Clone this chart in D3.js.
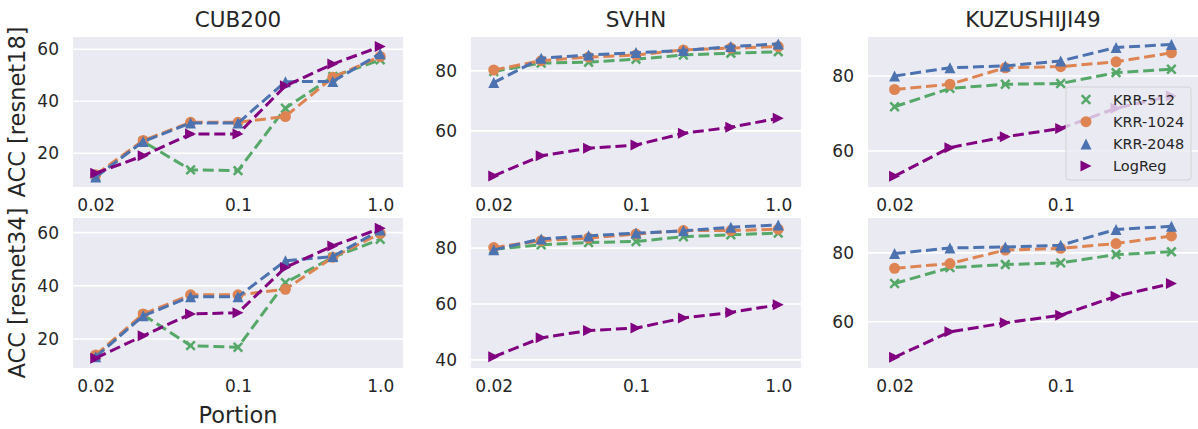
<!DOCTYPE html>
<html>
<head>
<meta charset="utf-8">
<script src="https://cdn.jsdelivr.net/npm/d3@7"></script>
<style>
  body { margin: 0; background: #ffffff; }
  svg { display: block; }
  text { font-family: "DejaVu Sans", sans-serif; fill: #262626; }
</style>
</head>
<body>
<svg id="chart" width="1198" height="429"></svg>
<script>
// ---- data -------------------------------------------------------------
const datasets = ["CUB200", "SVHN", "KUZUSHIJI49"];
const backbones = ["resnet18", "resnet34"];
const seriesNames = ["KRR-512", "KRR-1024", "KRR-2048", "LogReg"];

// x axis: portion steps are evenly spaced; only some carry a label
const tickIndex = [0, 3, 6];
const tickText = ["0.02", "0.1", "1.0"];

// accuracy [%], resnet18 features
const cub18_krr512  = [11.0, 24.5, 13.6, 13.3, 37.3, 49.5, 55.9];
const cub18_krr1024 = [11.7, 24.9, 31.9, 31.9, 34.1, 49.2, 57.2];
const cub18_krr2048 = [10.8, 24.5, 31.6, 31.6, 47.5, 47.6, 58.3];
const cub18_logreg  = [12.3, 19.0, 27.4, 27.4, 45.9, 54.3, 61.0];

const svhn18_krr512  = [79.8, 82.6, 82.9, 83.9, 85.3, 85.9, 86.4];
const svhn18_krr1024 = [80.3, 83.4, 84.6, 85.3, 87.0, 87.6, 88.1];
const svhn18_krr2048 = [76.1, 84.2, 85.3, 86.1, 86.8, 88.1, 89.0];
const svhn18_logreg  = [45.0, 51.7, 54.2, 55.3, 59.2, 61.2, 64.2];

const kuz18_krr512  = [71.8, 76.7, 77.8, 78.0, 80.9, 81.8];
const kuz18_krr1024 = [76.4, 77.8, 82.2, 82.5, 83.8, 86.2];
const kuz18_krr2048 = [80.0, 82.2, 82.7, 84.0, 87.6, 88.4];
const kuz18_logreg  = [53.3, 60.9, 63.8, 66.0, 71.4, 74.7];

// accuracy [%], resnet34 features
const cub34_krr512  = [13.6, 29.1, 17.5, 16.9, 41.2, 50.7, 57.5];
const cub34_krr1024 = [14.0, 29.4, 36.6, 36.6, 38.7, 50.7, 59.7];
const cub34_krr2048 = [13.3, 28.7, 35.9, 35.9, 49.4, 51.0, 61.0];
const cub34_logreg  = [12.8, 21.2, 29.4, 29.9, 46.9, 55.0, 61.6];

const svhn34_krr512  = [79.6, 81.2, 82.0, 82.4, 84.1, 84.8, 85.4];
const svhn34_krr1024 = [80.2, 82.7, 83.6, 85.1, 86.3, 86.3, 86.8];
const svhn34_krr2048 = [79.4, 83.3, 84.4, 85.4, 86.2, 87.5, 88.3];
const svhn34_logreg  = [41.1, 47.9, 50.5, 51.4, 55.0, 57.0, 59.7];

const kuz34_krr512  = [71.1, 75.7, 76.6, 77.1, 79.5, 80.3];
const kuz34_krr1024 = [75.5, 76.9, 80.8, 81.3, 82.7, 84.9];
const kuz34_krr2048 = [79.8, 81.4, 81.7, 82.2, 86.8, 87.7];
const kuz34_logreg  = [49.7, 57.1, 59.7, 61.9, 67.4, 71.1];

const panelSeries = [
  [
    [cub18_krr512, cub18_krr1024, cub18_krr2048, cub18_logreg],
    [svhn18_krr512, svhn18_krr1024, svhn18_krr2048, svhn18_logreg],
    [kuz18_krr512, kuz18_krr1024, kuz18_krr2048, kuz18_logreg]
  ],
  [
    [cub34_krr512, cub34_krr1024, cub34_krr2048, cub34_logreg],
    [svhn34_krr512, svhn34_krr1024, svhn34_krr2048, svhn34_logreg],
    [kuz34_krr512, kuz34_krr1024, kuz34_krr2048, kuz34_logreg]
  ]
];

// ---- layout & style ---------------------------------------------------
const colX = [73, 471, 868];
const rowY = [37, 218];
const panelW = 330, panelH = 150;
const xPad = 0.48;
const yDomains = [
  [[7.0, 64.7], [41.3, 91.3], [50.4, 90.4]],
  [[9.1, 65.5], [37.1, 90.8], [46.6, 90.1]]
];
const yTickCandidates = [0, 20, 40, 60, 80, 100];

const colors = ["#55A868", "#DD8452", "#4C72B0", "#800080"];
const markerKinds = ["x", "o", "^", ">"];
const bg = "#EAEAF2";
const lineW = 3;
const dash = "11,4.8";
const mr = 5.5; // marker half-size

const svg = d3.select("#chart");

function markerPath(kind) {
  if (kind === "x") return "M-4.3,-4.3L4.3,4.3M-4.3,4.3L4.3,-4.3";
  if (kind === "^") return `M0,${-mr}L${mr},${mr}L${-mr},${mr}Z`;
  if (kind === ">") return `M${mr},0L${-mr},${mr}L${-mr},${-mr}Z`;
  return null;
}

function drawMarker(g, kind, color, x, y) {
  if (kind === "o") {
    g.append("circle").attr("cx", x).attr("cy", y).attr("r", mr).attr("fill", color);
  } else if (kind === "x") {
    g.append("path").attr("transform", `translate(${x},${y})`)
      .attr("d", markerPath(kind)).attr("fill", "none")
      .attr("stroke", color).attr("stroke-width", 2.5);
  } else {
    g.append("path").attr("transform", `translate(${x},${y})`)
      .attr("d", markerPath(kind)).attr("fill", color);
  }
}

for (let r = 0; r < 2; r++) {
  for (let c = 0; c < 3; c++) {
    const series = panelSeries[r][c];
    const n = series[0].length;
    const x0 = colX[c], y0 = rowY[r];

    const x = d3.scaleLinear().domain([-xPad, n - 1 + xPad]).range([x0, x0 + panelW]);
    const y = d3.scaleLinear().domain(yDomains[r][c]).range([y0 + panelH, y0]);

    const g = svg.append("g");
    g.append("rect").attr("x", x0).attr("y", y0)
      .attr("width", panelW).attr("height", panelH).attr("fill", bg);

    const [ylo, yhi] = yDomains[r][c];
    const yTicks = yTickCandidates.filter(v => v >= ylo && v <= yhi);

    // horizontal grid
    g.selectAll(".grid").data(yTicks).enter().append("line")
      .attr("x1", x0).attr("x2", x0 + panelW)
      .attr("y1", d => y(d)).attr("y2", d => y(d))
      .attr("stroke", "#ffffff").attr("stroke-width", 1.6);

    // y axis
    const yAxis = d3.axisLeft(y).tickValues(yTicks).tickSize(0).tickPadding(14)
      .tickFormat(d3.format("d"));
    const ya = g.append("g").attr("transform", `translate(${x0},0)`).call(yAxis);
    ya.select(".domain").remove();
    ya.selectAll("text").attr("font-size", 17).attr("fill", "#262626")
      .attr("font-family", "DejaVu Sans, sans-serif");

    // x axis
    const xt = tickIndex.filter(i => i <= n - 1);
    const xAxis = d3.axisBottom(x).tickValues(xt).tickSize(0).tickPadding(12)
      .tickFormat(i => tickText[tickIndex.indexOf(i)]);
    const xa = g.append("g").attr("transform", `translate(0,${y0 + panelH})`).call(xAxis);
    xa.select(".domain").remove();
    xa.selectAll("text").attr("font-size", 17).attr("fill", "#262626")
      .attr("font-family", "DejaVu Sans, sans-serif");

    // series
    const line = d3.line().x((d, i) => x(i)).y(d => y(d));
    series.forEach((vals, s) => {
      g.append("path").datum(vals).attr("d", line)
        .attr("fill", "none").attr("stroke", colors[s])
        .attr("stroke-width", lineW).attr("stroke-dasharray", dash);
      vals.forEach((v, i) => drawMarker(g, markerKinds[s], colors[s], x(i), y(v)));
    });

    if (r === 0) {
      svg.append("text").attr("x", x0 + panelW / 2).attr("y", 27)
        .attr("text-anchor", "middle").attr("font-size", 21.5).text(datasets[c]);
    }
    if (c === 0) {
      svg.append("text")
        .attr("transform", `translate(25,${y0 + panelH / 2}) rotate(-90)`)
        .attr("text-anchor", "middle").attr("font-size", 22.5)
        .text(`ACC [${backbones[r]}]`);
    }
    if (r === 1 && c === 0) {
      svg.append("text").attr("x", x0 + panelW / 2).attr("y", 422.5)
        .attr("text-anchor", "middle").attr("font-size", 22.5).text("Portion");
    }
  }
}

// legend (top-right panel)
const leg = svg.append("g");
leg.append("rect").attr("x", 1066).attr("y", 87).attr("width", 125).attr("height", 93)
  .attr("rx", 3).attr("fill", bg).attr("fill-opacity", 0.8)
  .attr("stroke", "#cccccc").attr("stroke-opacity", 0.8).attr("stroke-width", 1);
seriesNames.forEach((name, s) => {
  const cy = 99.5 + s * 22.2;
  drawMarker(leg, markerKinds[s], colors[s], 1086, cy);
  leg.append("text").attr("x", 1113).attr("y", cy).attr("dy", "0.35em")
    .attr("font-size", 14.5).text(name);
});
</script>
</body>
</html>
